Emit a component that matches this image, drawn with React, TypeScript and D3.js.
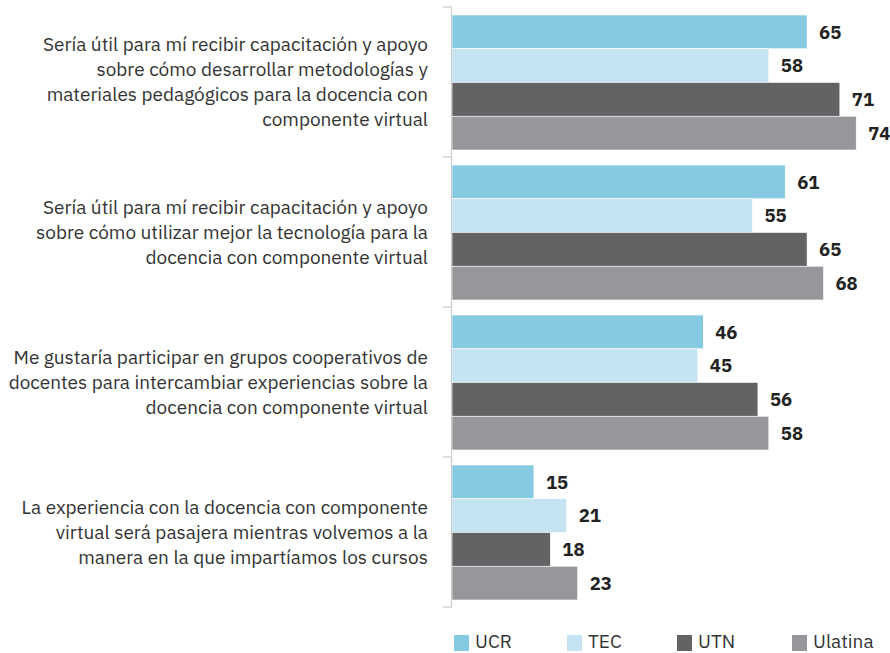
import React from "react";
import * as d3 from "d3";

const categories = [
  ["Sería útil para mí recibir capacitación y apoyo", "sobre cómo desarrollar metodologías y", "materiales pedagógicos para la docencia con", "componente virtual"],
  ["Sería útil para mí recibir capacitación y apoyo", "sobre cómo utilizar mejor la tecnología para la", "docencia con componente virtual"],
  ["Me gustaría participar en grupos cooperativos de", "docentes para intercambiar experiencias sobre la", "docencia con componente virtual"],
  ["La experiencia con la docencia con componente", "virtual será pasajera mientras volvemos a la", "manera en la que impartíamos los cursos"],
];
const series = ["UCR", "TEC", "UTN", "Ulatina"];
const UCR = [65, 61, 46, 15];
const TEC = [58, 55, 45, 21];
const UTN = [71, 65, 56, 18];
const Ulatina = [74, 68, 58, 23];
const values = [UCR, TEC, UTN, Ulatina];
const colors = ["#86cae1", "#c4e4f1", "#636365", "#97979b"];

const W = 890, H = 653;
const FONT = "'IBM Plex Sans', 'Noto Sans', sans-serif";

export default function App() {
  const x = d3.scaleLinear().domain([0, 80]).range([452, 889]);
  const y = d3.scaleBand<number>().domain(d3.range(categories.length)).range([7, 607]).padding(0);
  const inner = d3.scaleBand<number>().domain(d3.range(series.length)).range([8, y.bandwidth() - 7]).padding(0);
  const legendX = [454, 567, 677, 792];
  const lh = 25;
  return (
    <svg width={W} height={H} style={{ position: "absolute", left: 0, top: 0 }} fontFamily={FONT}>
      {categories.map((lines, i) => {
        const cy = (y(i) as number) + y.bandwidth() / 2;
        const y0 = cy - ((lines.length - 1) * lh) / 2;
        return (
          <g key={i}>
            {series.map((s, j) => {
              const v = values[j][i];
              const by = (y(i) as number) + (inner(j) as number);
              return (
                <g key={s}>
                  <rect x={x(0)} y={by} width={x(v) - x(0)} height={inner.bandwidth()} fill={colors[j]} stroke="#fff" strokeWidth={0.6} />
                  <text x={x(v) + 12} y={by + inner.bandwidth() / 2} dy="0.36em" fontSize={18.5} fontWeight={700} fill="#222">{v}</text>
                </g>
              );
            })}
            <text textAnchor="end" fontSize={19} fill="#333">
              {lines.map((l, k) => (
                <tspan key={k} x={428} y={y0 + k * lh} dy="0.36em">{l}</tspan>
              ))}
            </text>
          </g>
        );
      })}
      <line x1={451.5} x2={451.5} y1={7} y2={607} stroke="#ccc" strokeWidth={1.2} />
      {d3.range(categories.length + 1).map((i) => {
        const ty = 7 + i * y.step();
        return <line key={i} x1={443} x2={452} y1={ty} y2={ty} stroke="#ccc" strokeWidth={1.2} />;
      })}
      {series.map((s, j) => (
        <g key={s}>
          <rect x={legendX[j]} y={635} width={15} height={16} fill={colors[j]} />
          <text x={legendX[j] + 21} y={648} fontSize={19} fill="#333">{s}</text>
        </g>
      ))}
    </svg>
  );
}
